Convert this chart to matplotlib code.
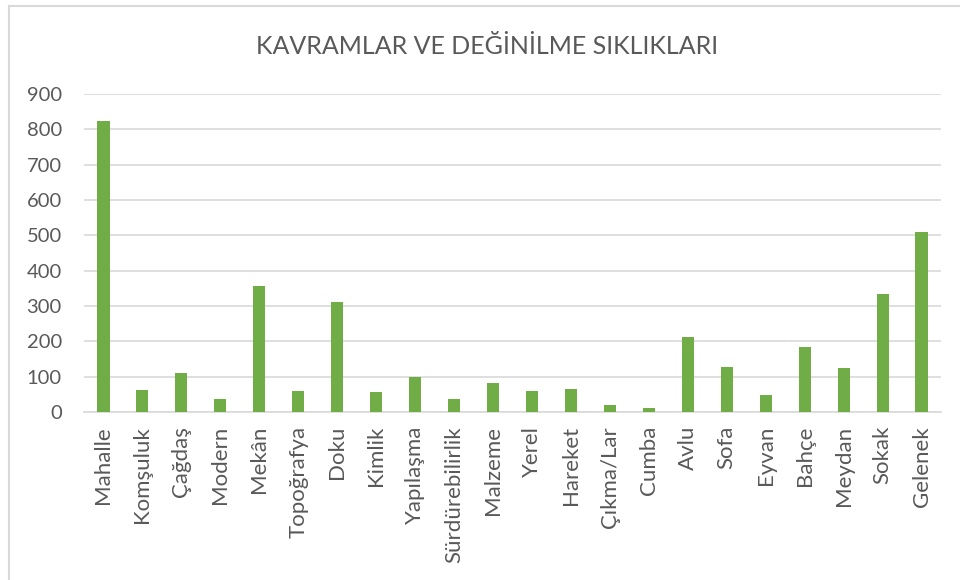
import matplotlib
matplotlib.use("Agg")
import matplotlib.pyplot as plt
from matplotlib.lines import Line2D

categories = ["Mahalle", "Komşuluk", "Çağdaş", "Modern", "Mekân", "Topoğrafya", "Doku",
              "Kimlik", "Yapılaşma", "Sürdürebilirlik", "Malzeme", "Yerel", "Hareket",
              "Çıkma/Lar", "Cumba", "Avlu", "Sofa", "Eyvan", "Bahçe", "Meydan", "Sokak", "Gelenek"]
values = [825, 63, 110, 38, 356, 59, 310, 57, 100, 38, 81, 59, 66, 20, 11, 212, 128, 49,
          183, 124, 335, 509]
yticks = [0, 100, 200, 300, 400, 500, 600, 700, 800, 900]
title = "KAVRAMLAR VE DEĞİNİLME SIKLIKLARI"

plt.rcParams['font.family'] = ['Lato', 'DejaVu Sans']
text_color = "#595959"
grid_color = "#D9D9D9"

fig = plt.figure(figsize=(9.6, 5.8), dpi=100)
fig.patch.set_facecolor("white")
ax = fig.add_axes([84 / 960, 1 - 412 / 580, (941 - 84) / 960, (412 - 94) / 580])

x = list(range(len(categories)))
ax.bar(x, values, width=0.31, color="#70AD47", zorder=3)

ax.set_xlim(-0.5, len(categories) - 0.5)
ax.set_ylim(0, 900)
ax.set_yticks(yticks)
ax.set_yticklabels([str(v) for v in yticks])
ax.set_xticks(x)
ax.set_xticklabels(categories, rotation=90)

for s in ["top", "right", "left"]:
    ax.spines[s].set_visible(False)
ax.spines["bottom"].set_color(grid_color)
ax.spines["bottom"].set_linewidth(1.2)
ax.yaxis.grid(True, color=grid_color, linewidth=1.2, zorder=0)
ax.tick_params(axis="both", length=0, colors=text_color)
ax.tick_params(axis="y", pad=16, labelsize=14.5)
ax.tick_params(axis="x", pad=10, labelsize=16)

fig.text(487 / 960, 1 - 47 / 580, title, ha="center", va="center", fontsize=18,
         color=text_color)

# chart border
fig.add_artist(Line2D([8.5 / 960, 1], [1 - 5.5 / 580, 1 - 5.5 / 580], color=grid_color,
                      linewidth=1.5, transform=fig.transFigure))
fig.add_artist(Line2D([8.5 / 960, 8.5 / 960], [0, 1 - 5.5 / 580], color=grid_color,
                      linewidth=1.5, transform=fig.transFigure))

fig.savefig("out.png", dpi=100, facecolor="white")
